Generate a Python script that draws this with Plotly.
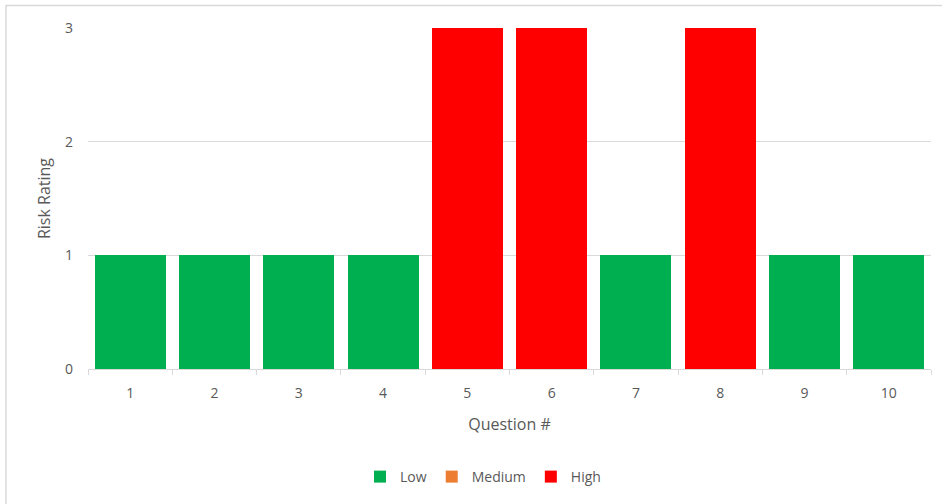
import plotly.graph_objects as go

questions = ["1", "2", "3", "4", "5", "6", "7", "8", "9", "10"]
low_values = [1, 1, 1, 1, None, None, 1, None, 1, 1]
medium_values = [None] * 10
high_values = [None, None, None, None, 3, 3, None, 3, None, None]
y_ticks = [0, 1, 2, 3]

FONT = "Open Sans"
TXT = "#595959"

fig = go.Figure()
fig.add_bar(x=questions, y=low_values, name="Low", marker_color="#00B050", marker_line_width=0)
fig.add_bar(x=questions, y=medium_values, name="Medium", marker_color="#ED7D31", marker_line_width=0)
fig.add_bar(x=questions, y=high_values, name="High", marker_color="#FF0000", marker_line_width=0)

W, H = 942, 504
L, R, T, B = 88, 11, 28, 135
pw = W - L - R
ph = H - T - B

def px_x(v):
    return (v - L) / pw

def px_y(v):
    return (H - B - v) / ph

fig.update_layout(
    width=W, height=H,
    margin=dict(l=L, r=R, t=T, b=B),
    paper_bgcolor="white", plot_bgcolor="white",
    barmode="stack", bargap=0.158,
    font=dict(family=FONT, size=14, color=TXT),
    showlegend=True,
    legend=dict(orientation="h", xanchor="center", x=px_x(483), yanchor="middle", y=px_y(477),
                font=dict(size=14, color=TXT), itemwidth=30, traceorder="normal"),
    xaxis=dict(
        type="category", showline=True, linecolor="#D9D9D9", linewidth=1,
        ticks="outside", tickson="boundaries", ticklen=5, tickcolor="#D9D9D9",
        ticklabelstandoff=11, showgrid=False, tickfont=dict(size=14),
        title=dict(text="Question #", font=dict(size=16, color=TXT), standoff=18),
    ),
    yaxis=dict(
        range=[0, 3], tickvals=y_ticks, showgrid=True, gridcolor="#D9D9D9", gridwidth=1,
        zeroline=False, showline=False, ticks="", ticklabelstandoff=14, tickfont=dict(size=14),
        title=dict(text="Risk Rating", font=dict(size=16, color=TXT), standoff=10),
    ),
    shapes=[dict(type="rect", xref="paper", yref="paper",
                 x0=px_x(6), x1=px_x(946), y0=px_y(508), y1=px_y(5.5),
                 line=dict(color="#D9D9D9", width=1.5), fillcolor="rgba(0,0,0,0)", layer="below")],
)

fig.write_html("out.html")
